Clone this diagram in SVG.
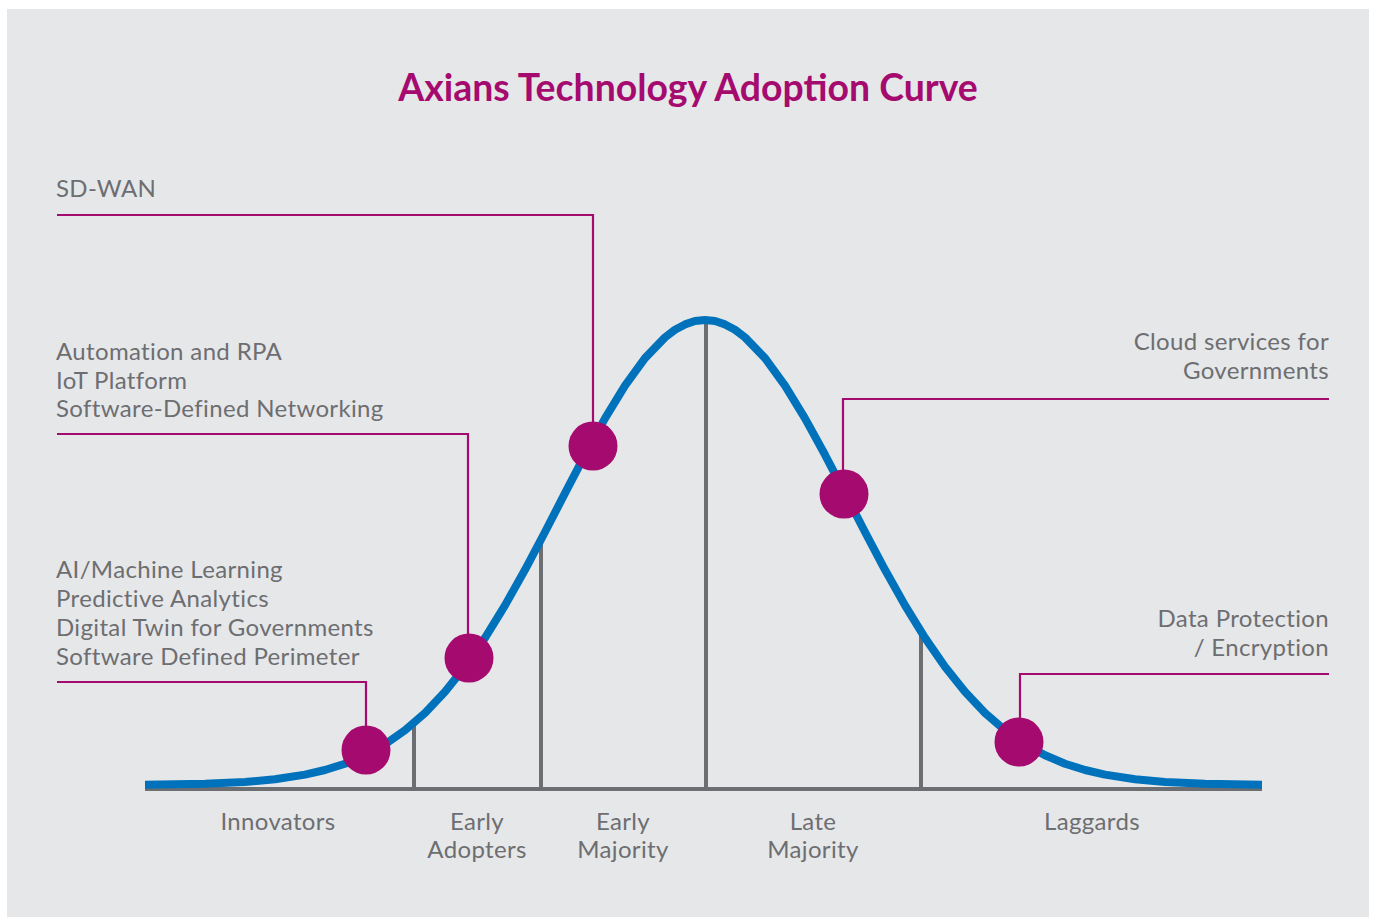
<svg xmlns="http://www.w3.org/2000/svg" width="1374" height="917" viewBox="0 0 1374 917">
<style>
.lbl{font-family:Lato,"Liberation Sans",sans-serif;font-size:24px;letter-spacing:0.35px;fill:#6d6e71}
.r{text-anchor:end}
.m{text-anchor:middle}
.title{font-family:Lato,"Liberation Sans",sans-serif;font-size:37.4px;font-weight:bold;fill:#a50b6f;text-anchor:middle}
.lead{fill:none;stroke:#a50b6f;stroke-width:2.2}
.div{stroke:#6d6e71;stroke-width:4}
.dot{fill:#a50b6f}
</style>
<rect x="0" y="0" width="1374" height="917" fill="#ffffff"/>
<rect x="7" y="9" width="1362" height="908" fill="#e6e7e9"/>
<text class="title" x="688" y="101">Axians Technology Adoption Curve</text>
<g id="axis">
<line class="div" x1="145" y1="789" x2="1262" y2="789"/>
<line class="div" x1="414" y1="789" x2="414" y2="722"/>
<line class="div" x1="541" y1="789" x2="541" y2="540"/>
<line class="div" x1="706" y1="789" x2="706" y2="322"/>
<line class="div" x1="921" y1="789" x2="921" y2="632"/>
</g>
<g id="curve">
<polyline fill="none" stroke="#0072bb" stroke-width="8" stroke-linejoin="round" points="145,784.7 205,783.8 245,782 275,779.3 305,774.6 325,770 345,763.7 365,755.2 385,744.3 405,730.3 425,712.9 445,691.8 465,666.8 485,637.9 505,605.4 525,569.8 545,532 565,493.2 585,454.8 605,418.4 625,385.7 645,358.1 665,337.4 675,329.8 685,324.4 695,321 705,320 715,321 725,324.4 735,329.8 745,337.4 765,358.1 785,385.7 805,418.4 825,454.8 845,493.2 865,532 885,569.8 905,605.4 925,637.9 945,666.8 965,691.8 985,712.9 1005,730.3 1025,744.3 1045,755.2 1065,763.7 1085,770 1105,774.6 1135,779.3 1165,782 1205,783.8 1262,784.7"/>
</g>
<g id="connectors">
<polyline class="lead" points="57,215 593,215 593,446"/>
<polyline class="lead" points="57,434 468,434 468,658"/>
<polyline class="lead" points="57,682 366,682 366,750"/>
<polyline class="lead" points="1329,399 843,399 843,494"/>
<polyline class="lead" points="1329,674 1020,674 1020,742"/>
</g>
<g id="node-sdwan">
<text class="lbl" x="56" y="197">SD-WAN</text>
<circle class="dot" cx="593" cy="446" r="24.5"/>
</g>
<g id="node-automation">
<text class="lbl" x="56" y="360">Automation and RPA</text>
<text class="lbl" x="56" y="389">IoT Platform</text>
<text class="lbl" x="56" y="417">Software-Defined Networking</text>
<circle class="dot" cx="469" cy="658" r="24.5"/>
</g>
<g id="node-ai">
<text class="lbl" x="56" y="578">AI/Machine Learning</text>
<text class="lbl" x="56" y="607">Predictive Analytics</text>
<text class="lbl" x="56" y="636">Digital Twin for Governments</text>
<text class="lbl" x="56" y="665">Software Defined Perimeter</text>
<circle class="dot" cx="366" cy="750" r="24.5"/>
</g>
<g id="node-cloud">
<text class="lbl r" x="1329" y="350">Cloud services for</text>
<text class="lbl r" x="1329" y="379">Governments</text>
<circle class="dot" cx="844" cy="494" r="24.5"/>
</g>
<g id="node-data">
<text class="lbl r" x="1329" y="627">Data Protection</text>
<text class="lbl r" x="1329" y="656">/ Encryption</text>
<circle class="dot" cx="1019" cy="742" r="24.5"/>
</g>
<g id="categories">
<text class="lbl m" x="278" y="830">Innovators</text>
<text class="lbl m" x="477" y="830">Early</text>
<text class="lbl m" x="477" y="858">Adopters</text>
<text class="lbl m" x="623" y="830">Early</text>
<text class="lbl m" x="623" y="858">Majority</text>
<text class="lbl m" x="813" y="830">Late</text>
<text class="lbl m" x="813" y="858">Majority</text>
<text class="lbl m" x="1092" y="830">Laggards</text>
</g>
</svg>
